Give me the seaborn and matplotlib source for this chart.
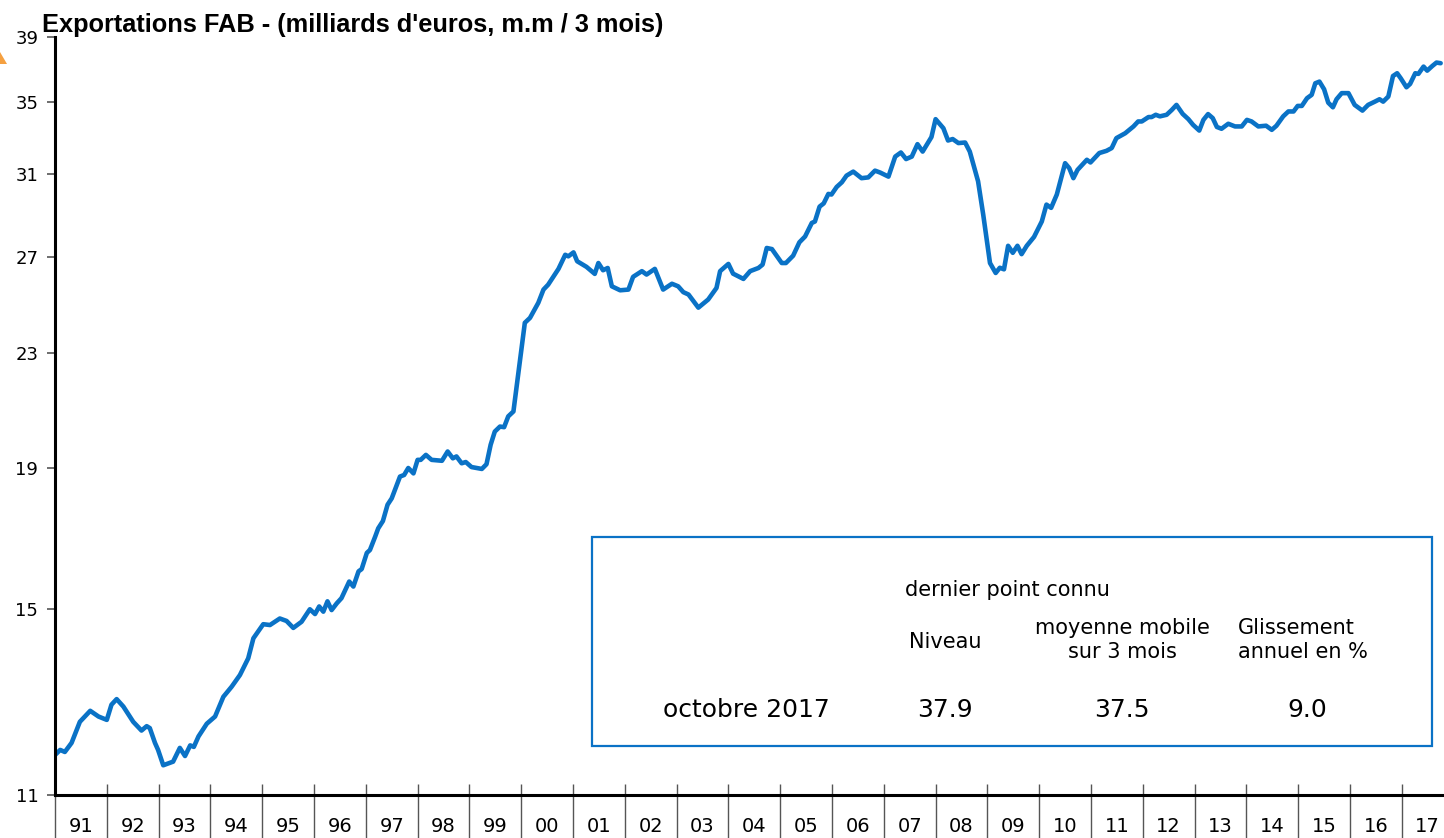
import numpy as np
import pandas as pd
import seaborn as sns
import matplotlib.pyplot as plt
from matplotlib.patches import Rectangle, Polygon
from matplotlib.ticker import FixedLocator, NullFormatter, NullLocator

# Exportations FAB, milliards d'euros, moyenne mobile sur 3 mois
years = [
    1991.00, 1991.10, 1991.19, 1991.32, 1991.48, 1991.68, 1991.84, 1992.00, 1992.09, 1992.19,
    1992.32, 1992.51, 1992.67, 1992.77, 1992.83, 1992.93, 1992.99, 1993.09, 1993.28, 1993.41,
    1993.51, 1993.61, 1993.68, 1993.77, 1993.93, 1994.09, 1994.25, 1994.41, 1994.57, 1994.73,
    1994.83, 1995.02, 1995.15, 1995.34, 1995.47, 1995.60, 1995.76, 1995.92, 1996.02, 1996.10,
    1996.18, 1996.26, 1996.34, 1996.44, 1996.53, 1996.68, 1996.76, 1996.86, 1996.92, 1997.02,
    1997.08, 1997.18, 1997.24, 1997.33, 1997.42, 1997.50, 1997.66, 1997.74, 1997.82, 1997.92,
    1998.00, 1998.06, 1998.16, 1998.27, 1998.47, 1998.58, 1998.68, 1998.75, 1998.85, 1998.93,
    1999.04, 1999.24, 1999.33, 1999.41, 1999.49, 1999.59, 1999.67, 1999.75, 1999.85, 2000.07,
    2000.17, 2000.33, 2000.43, 2000.52, 2000.72, 2000.85, 2000.91, 2001.01, 2001.08, 2001.26,
    2001.42, 2001.49, 2001.58, 2001.67, 2001.75, 2001.91, 2002.07, 2002.16, 2002.33, 2002.42,
    2002.58, 2002.74, 2002.91, 2003.03, 2003.13, 2003.23, 2003.42, 2003.61, 2003.77, 2003.84,
    2004.00, 2004.09, 2004.29, 2004.42, 2004.58, 2004.66, 2004.74, 2004.84, 2005.03, 2005.11,
    2005.25, 2005.37, 2005.48, 2005.61, 2005.67, 2005.76, 2005.84, 2005.93, 2005.99, 2006.09,
    2006.19, 2006.28, 2006.41, 2006.57, 2006.70, 2006.83, 2006.93, 2007.09, 2007.22, 2007.33,
    2007.43, 2007.54, 2007.65, 2007.75, 2007.92, 2008.00, 2008.15, 2008.24, 2008.33, 2008.44,
    2008.57, 2008.66, 2008.82, 2008.92, 2009.05, 2009.16, 2009.24, 2009.32, 2009.40, 2009.49,
    2009.58, 2009.66, 2009.76, 2009.90, 2010.05, 2010.14, 2010.23, 2010.34, 2010.50, 2010.58,
    2010.66, 2010.74, 2010.92, 2010.99, 2011.16, 2011.30, 2011.40, 2011.49, 2011.66, 2011.82,
    2011.91, 2011.98, 2012.11, 2012.17, 2012.25, 2012.33, 2012.46, 2012.56, 2012.65, 2012.77,
    2012.88, 2012.97, 2013.09, 2013.17, 2013.26, 2013.35, 2013.43, 2013.52, 2013.65, 2013.78,
    2013.91, 2014.01, 2014.10, 2014.23, 2014.38, 2014.49, 2014.58, 2014.71, 2014.81, 2014.91,
    2014.99, 2015.07, 2015.17, 2015.26, 2015.33, 2015.41, 2015.50, 2015.58, 2015.67, 2015.74,
    2015.84, 2015.97, 2016.09, 2016.24, 2016.35, 2016.48, 2016.57, 2016.64, 2016.74, 2016.83,
    2016.91, 2016.98, 2017.09, 2017.16, 2017.26, 2017.32, 2017.42, 2017.49, 2017.59, 2017.67,
    2017.75,
]
exports = [
    11.76, 11.86, 11.82, 12.00, 12.43, 12.66, 12.54, 12.47, 12.79, 12.91,
    12.75, 12.43, 12.25, 12.34, 12.30, 12.00, 11.86, 11.56, 11.63, 11.90,
    11.74, 11.95, 11.92, 12.13, 12.39, 12.54, 12.96, 13.18, 13.44, 13.82,
    14.29, 14.63, 14.61, 14.77, 14.71, 14.54, 14.69, 15.00, 14.88, 15.07,
    14.94, 15.20, 14.98, 15.15, 15.28, 15.71, 15.58, 15.98, 16.04, 16.48,
    16.56, 16.93, 17.17, 17.38, 17.86, 18.05, 18.72, 18.77, 18.99, 18.82,
    19.25, 19.25, 19.41, 19.25, 19.22, 19.52, 19.30, 19.36, 19.14, 19.18,
    19.02, 18.96, 19.11, 19.74, 20.18, 20.35, 20.33, 20.70, 20.87, 24.20,
    24.40, 25.02, 25.58, 25.79, 26.48, 27.11, 27.04, 27.22, 26.82, 26.57,
    26.26, 26.74, 26.42, 26.52, 25.72, 25.55, 25.58, 26.13, 26.38, 26.23,
    26.48, 25.58, 25.83, 25.72, 25.47, 25.37, 24.82, 25.16, 25.65, 26.38,
    26.70, 26.27, 26.04, 26.38, 26.52, 26.67, 27.42, 27.37, 26.74, 26.74,
    27.07, 27.68, 27.95, 28.59, 28.66, 29.38, 29.54, 30.01, 29.98, 30.36,
    30.60, 30.94, 31.15, 30.81, 30.85, 31.20, 31.10, 30.89, 31.94, 32.16,
    31.81, 31.94, 32.61, 32.21, 33.00, 34.00, 33.49, 32.81, 32.89, 32.67,
    32.70, 32.21, 30.65, 28.98, 26.74, 26.30, 26.53, 26.46, 27.52, 27.20,
    27.52, 27.14, 27.52, 27.93, 28.66, 29.48, 29.32, 29.98, 31.59, 31.33,
    30.81, 31.24, 31.77, 31.63, 32.13, 32.25, 32.40, 32.94, 33.21, 33.59,
    33.87, 33.87, 34.12, 34.12, 34.25, 34.16, 34.25, 34.53, 34.82, 34.30,
    34.00, 33.68, 33.36, 33.96, 34.29, 34.06, 33.56, 33.46, 33.74, 33.59,
    33.59, 33.96, 33.87, 33.59, 33.63, 33.40, 33.63, 34.16, 34.44, 34.44,
    34.76, 34.76, 35.21, 35.41, 36.10, 36.20, 35.74, 34.95, 34.68, 35.15,
    35.51, 35.51, 34.82, 34.49, 34.82, 35.01, 35.15, 35.01, 35.31, 36.54,
    36.71, 36.40, 35.86, 36.06, 36.71, 36.67, 37.12, 36.87, 37.16, 37.37,
    37.33,
]

y_ticks = [11, 15, 19, 23, 27, 31, 35, 39]
year_starts = list(range(1991, 2018))
year_labels = [f"{y % 100:02d}" for y in year_starts]

title = "Exportations FAB - (milliards d'euros, m.m / 3 mois)"
box_period = "octobre 2017"
box_header = "dernier point connu"
col_headers = ["Niveau", "moyenne mobile\nsur 3 mois", "Glissement\nannuel en %"]
col_values = ["37.9", "37.5", "9.0"]

df = pd.DataFrame({"annee": years, "exportations": exports})

sns.set_style("white")
plt.rcParams["font.family"] = ["DejaVu Sans"]
plt.rcParams["text.color"] = "black"
plt.rcParams["xtick.color"] = "black"
plt.rcParams["ytick.color"] = "black"

W, H = 1444, 838
fig = plt.figure(figsize=(W / 100, H / 100), dpi=100)
ax = fig.add_axes([55 / W, 1 - 795 / H, 1 - 55 / W, (795 - 37) / H])

def px(x, y):
    return x / W, 1 - y / H

blue = "#0a72c6"
sns.lineplot(data=df, x="annee", y="exportations", ax=ax, color=blue, linewidth=3.3)

ax.set_yscale("log")
ax.set_ylim(11, 39)
ax.set_xlim(1991, 1991 + (W - 55) / 51.8)
ax.yaxis.set_major_locator(FixedLocator(y_ticks))
ax.yaxis.set_minor_locator(NullLocator())
ax.set_yticklabels([str(v) for v in y_ticks])
ax.tick_params(axis="y", which="major", left=True, direction="out", length=6, width=1.2,
               color="#555555", labelsize=13, pad=6)

# x axis: tick marks at year starts, labels centred on the year
ax.set_xticks(year_starts)
ax.xaxis.set_major_formatter(NullFormatter())
ax.set_xticks([y + 0.5 for y in year_starts], minor=True)
ax.set_xticklabels(year_labels, minor=True)
ax.tick_params(axis="x", which="major", bottom=True, direction="out", length=32, width=1.0,
               color="#555555")
ax.tick_params(axis="x", which="minor", bottom=True, length=0, labelsize=14, pad=16)
ax.vlines(year_starts, 0, 11 / 758, transform=ax.get_xaxis_transform(),
          color="#555555", linewidth=1.0, clip_on=False)

ax.set_xlabel("")
ax.set_ylabel("")
for side in ["top", "right"]:
    ax.spines[side].set_visible(False)
for side in ["left", "bottom"]:
    ax.spines[side].set_color("black")
    ax.spines[side].set_linewidth(2.2)

fig.text(*px(42, 25), title, fontsize=18.3, fontweight="bold", ha="left", va="center",
         family=["Liberation Sans", "DejaVu Sans"])

# summary box
bx0, by0 = px(592, 746)
fig.add_artist(Rectangle((bx0, by0), (1432 - 592) / W, (746 - 537) / H,
                         transform=fig.transFigure, fill=False, edgecolor=blue, linewidth=1.6))
fig.text(*px(1007, 590), box_header, fontsize=15, ha="center", va="center")
col_x = [945, 1122, 1307]
fig.text(*px(col_x[0], 642), col_headers[0], fontsize=15, ha="center", va="center")
fig.text(*px(col_x[1], 640), col_headers[1], fontsize=15, ha="center", va="center", linespacing=1.3)
fig.text(*px(1238, 640), col_headers[2], fontsize=15, ha="left", va="center",
         multialignment="left", linespacing=1.3)
fig.text(*px(746, 710), box_period, fontsize=18, ha="center", va="center")
for cx, val in zip(col_x, col_values):
    fig.text(*px(cx, 710), val, fontsize=18, ha="center", va="center")

# small orange logo fragment in the corner
fig.add_artist(Polygon([px(0, 52), px(7, 64), px(0, 64)], closed=True,
                       transform=fig.transFigure, facecolor="#f5a040", edgecolor="none"))

fig.savefig("out.png", dpi=100)
